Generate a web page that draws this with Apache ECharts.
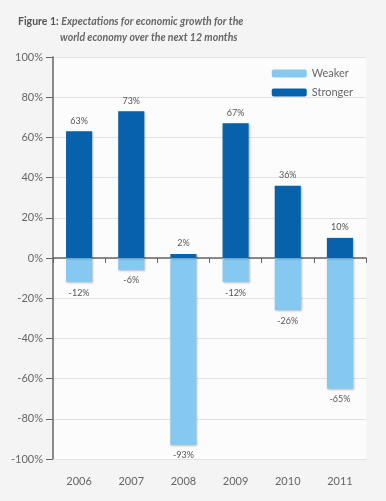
<!DOCTYPE html>
<html><head><meta charset="utf-8">
<script src="https://cdn.jsdelivr.net/npm/echarts@6/dist/echarts.min.js"></script>
<style>html,body{margin:0;padding:0;background:#f4f4f4;}#c{width:386px;height:501px;}</style>
</head><body><div id="c"></div>
<script>
const categories = ['2006','2007','2008','2009','2010','2011'];
const weaker = [-12, -6, -93, -12, -26, -65];
const stronger = [63, 73, 2, 67, 36, 10];
const yTicks = [-100, -80, -60, -40, -20, 0, 20, 40, 60, 80, 100];

const chart = echarts.init(document.getElementById('c'));
const lbl = {show:true, fontFamily:'Lato', fontSize:9, color:'#555', formatter: p => p.value + '%'};
const shadow = {shadowBlur:2, shadowOffsetX:1, shadowOffsetY:1, shadowColor:'rgba(0,0,0,0.25)'};
chart.setOption({
  backgroundColor:'#f4f4f4',
  animation:false,
  title:{
    text:'{b|Figure 1: }{i|Expectations for economic growth for the}\n{p|}{i|world economy over the next 12 months}',
    left:13, top:10,
    textStyle:{rich:{
      b:{fontFamily:'Lato', fontWeight:'bold', fontSize:10.5, color:'#555', lineHeight:14},
      i:{fontFamily:'Lato', fontStyle:'italic', fontSize:10.5, color:'#666', lineHeight:14},
      p:{width:42}
    }}
  },
  legend:{
    data:['Weaker','Stronger'], orient:'vertical', right:28, top:63,
    itemWidth:35, itemHeight:8, itemGap:8,
    textStyle:{fontFamily:'Lato', fontSize:11, color:'#666'}
  },
  grid:{left:53, right:20, top:57, bottom:42, show:true, backgroundColor:'#fcfcfc', borderWidth:0},
  xAxis:[{
    type:'category', data:categories,
    axisLine:{onZero:true, lineStyle:{color:'#666', width:1.5}},
    axisTick:{show:true, length:5, lineStyle:{color:'#666'}},
    axisLabel:{show:false}
  },{
    type:'category', data:categories, position:'bottom',
    axisLine:{show:true, onZero:false, lineStyle:{color:'#e2e2e2'}},
    axisTick:{show:false},
    axisLabel:{fontFamily:'Lato', fontSize:11, color:'#666', margin:17}
  }],
  yAxis:{
    type:'value', min:-100, max:100, interval:20,
    axisLine:{show:true, lineStyle:{color:'#666', width:1.5}},
    axisTick:{show:true, inside:false, length:7, lineStyle:{color:'#666'}},
    axisLabel:{fontFamily:'Lato', fontSize:11, color:'#666', margin:10, formatter: v => yTicks.includes(v) ? v + '%' : ''},
    splitLine:{lineStyle:{color:'#e2e2e2'}}
  },
  series:[
    {name:'Weaker', type:'bar', stack:'s', data:weaker, barWidth:'50%',
     itemStyle:Object.assign({color:'#85c8f0'}, shadow),
     label:Object.assign({position:'bottom', distance:6}, lbl)},
    {name:'Stronger', type:'bar', stack:'s', data:stronger, barWidth:'50%',
     itemStyle:Object.assign({color:'#0762ab'}, shadow),
     label:Object.assign({position:'top', distance:6}, lbl)}
  ]
});
</script></body></html>
